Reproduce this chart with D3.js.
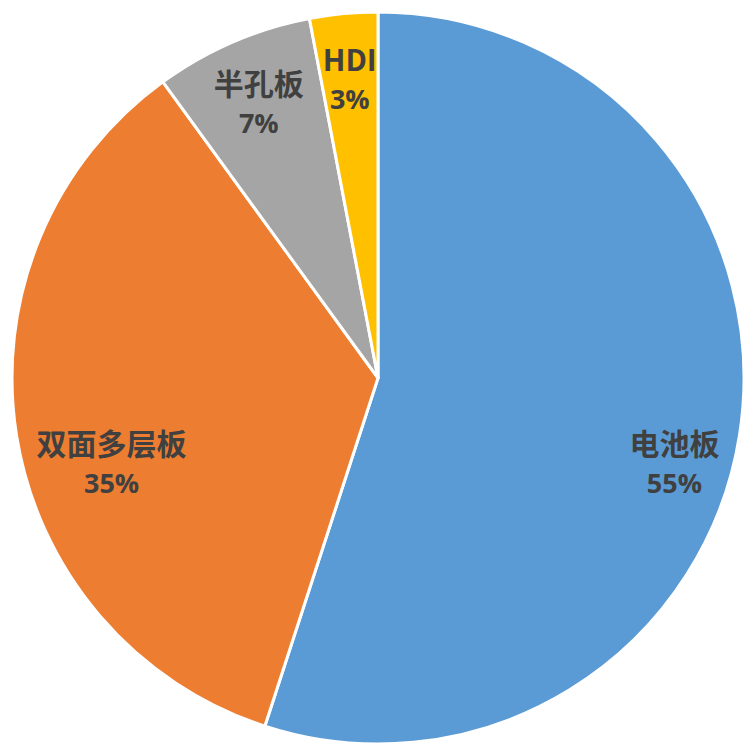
<!DOCTYPE html>
<html>
<head>
<meta charset="utf-8">
<script src="https://cdn.jsdelivr.net/npm/d3@7"></script>
<style>
  body { margin: 0; background: #fff; }
</style>
</head>
<body>
<div id="chart"></div>
<script>
// data
const categories = ['电池板', '双面多层板', '半孔板', 'HDI']
const shares = [55, 35, 7, 3]
const colors = ['#5B9BD5', '#ED7D31', '#A5A5A5', '#FFC000']

const data = categories.map((c, i) => ({ name: c, value: shares[i], color: colors[i] }))

// svg setup
const svgWidth = 745
const svgHeight = 749
const cx = 378
const cy = 378
const radius = 366

const svg = d3.select('#chart')
    .append('svg')
    .attr('width', svgWidth)
    .attr('height', svgHeight)
    .append('g')
    .attr('transform', 'translate(' + cx + ',' + cy + ')')

const pie = d3.pie()
    .value(d => d.value)
    .sort(null)

const arc = d3.arc()
    .innerRadius(0)
    .outerRadius(radius)

const labelArc = d3.arc()
    .innerRadius(radius * 0.82)
    .outerRadius(radius * 0.82)

const arcs = pie(data)

svg.selectAll('.slice')
    .data(arcs)
    .join('path')
    .attr('class', 'slice')
    .attr('d', arc)
    .attr('fill', d => d.data.color)
    .attr('stroke', '#fff')
    .attr('stroke-width', 3)
    .attr('stroke-linejoin', 'round')

// labels
const labels = svg.selectAll('.label')
    .data(arcs)
    .join('text')
    .attr('class', 'label')
    .attr('text-anchor', 'middle')
    .attr('fill', '#404040')
    .attr('font-weight', 'bold')
    .attr('font-family', '"Noto Sans CJK SC", "DejaVu Sans", sans-serif')

labels.append('tspan')
    .attr('x', 0)
    .attr('y', 0)
    .attr('font-size', 30)
    .text(d => d.data.name)

labels.append('tspan')
    .attr('x', 0)
    .attr('y', 38)
    .attr('font-size', 27)
    .attr('font-family', '"Open Sans", "DejaVu Sans", sans-serif')
    .text(d => d.data.value + '%')

// place labels roughly like excel's best fit: wide labels pulled in, big slices dropped a bit
labels.attr('transform', function (d) {
    const [x, y] = labelArc.centroid(d)
    const w = this.getBBox().width
    const pull = Math.max(0, w / 2 - 45) * Math.sign(x)
    const drop = (d.endAngle - d.startAngle) > 1 ? 30 : -8
    return 'translate(' + (x - pull) + ',' + (y + drop) + ')'
})
</script>
</body>
</html>
